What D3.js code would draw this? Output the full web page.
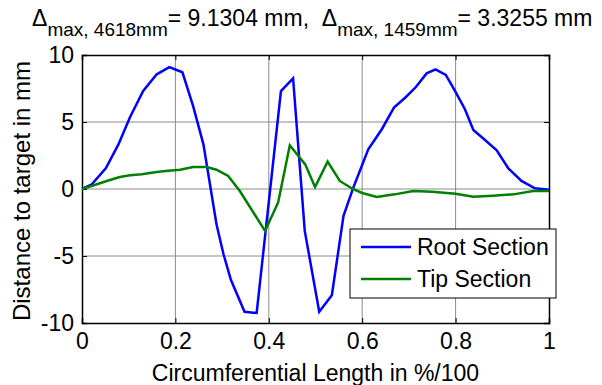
<!DOCTYPE html>
<html>
<head>
<meta charset="utf-8">
<script src="https://cdn.jsdelivr.net/npm/d3@7"></script>
<style>
body { margin: 0; background: #fff; }
svg text { font-family: "Liberation Sans", Arial, sans-serif; fill: #000; }
</style>
</head>
<body>
<div id="chart"></div>
<script>
let rootX = [0, 0.021, 0.051, 0.078, 0.103, 0.131, 0.16, 0.187, 0.215, 0.238, 0.26, 0.288, 0.303, 0.319, 0.348, 0.374, 0.426, 0.452, 0.477, 0.508, 0.535, 0.56, 0.581, 0.613, 0.642, 0.668, 0.692, 0.715, 0.738, 0.757, 0.779, 0.799, 0.82, 0.838, 0.863, 0.888, 0.913, 0.941, 0.97, 1];
let rootY = [0, 0.35, 1.54, 3.33, 5.37, 7.31, 8.56, 9.10, 8.71, 6.19, 3.33, -2.63, -4.87, -6.79, -9.16, -9.25, 7.31, 8.26, -3.13, -9.16, -7.93, -2.0, 0.1, 2.96, 4.46, 6.07, 6.81, 7.61, 8.63, 8.93, 8.51, 7.31, 5.95, 4.40, 3.66, 2.89, 1.54, 0.60, 0.05, -0.05];

let tipX = [0, 0.027, 0.053, 0.081, 0.103, 0.128, 0.16, 0.185, 0.21, 0.238, 0.267, 0.288, 0.313, 0.338, 0.392, 0.42, 0.445, 0.478, 0.499, 0.526, 0.552, 0.58, 0.6, 0.631, 0.67, 0.709, 0.75, 0.8, 0.838, 0.88, 0.924, 0.966, 1];
let tipY = [0, 0.3, 0.6, 0.9, 1.02, 1.1, 1.27, 1.37, 1.44, 1.64, 1.64, 1.44, 0.97, -0.15, -3.13, -1.0, 3.26, 1.84, 0.15, 2.04, 0.6, 0, -0.3, -0.6, -0.4, -0.15, -0.2, -0.35, -0.57, -0.5, -0.4, -0.15, -0.15];

let xTicks = [0, 0.2, 0.4, 0.6, 0.8, 1];
let yTicks = [-10, -5, 0, 5, 10];
let seriesNames = ['Root Section', 'Tip Section'];
let seriesColors = ['#0000ff', '#008000'];

let width = 602, height = 385;
let plotLeft = 82, plotRight = 549, plotTop = 55, plotBottom = 323;

let xScale = d3.scaleLinear().domain([0, 1]).range([plotLeft, plotRight]);
let yScale = d3.scaleLinear().domain([-10, 10]).range([plotBottom, plotTop]);

let svg = d3.select('#chart').append('svg')
    .attr('width', width)
    .attr('height', height);

// grid
svg.append('g')
    .selectAll('line')
    .data(xTicks.slice(1, -1))
    .enter()
    .append('line')
    .attr('x1', d => xScale(d))
    .attr('x2', d => xScale(d))
    .attr('y1', plotTop)
    .attr('y2', plotBottom)
    .attr('stroke', '#8c8c8c')
    .attr('stroke-width', 1);

svg.append('g')
    .selectAll('line')
    .data(yTicks.slice(1, -1))
    .enter()
    .append('line')
    .attr('x1', plotLeft)
    .attr('x2', plotRight)
    .attr('y1', d => yScale(d))
    .attr('y2', d => yScale(d))
    .attr('stroke', '#8c8c8c')
    .attr('stroke-width', 1);

// axes, MATLAB style: ticks inside on all four sides, plain hyphen for minus
let fmt = d => String(d);
let xBottom = d3.axisBottom(xScale).tickValues(xTicks).tickSize(-5).tickPadding(10).tickFormat(fmt);
let xTop = d3.axisTop(xScale).tickValues(xTicks).tickSize(-5).tickFormat('');
let yLeft = d3.axisLeft(yScale).tickValues(yTicks).tickSize(-5).tickPadding(8).tickFormat(fmt);
let yRight = d3.axisRight(yScale).tickValues(yTicks).tickSize(-5).tickFormat('');

function styleAxis(g) {
    g.select('.domain').attr('stroke', '#000').attr('stroke-width', 1.5);
    g.selectAll('.tick line').attr('stroke', '#000');
    g.selectAll('.tick text').style('font-size', '23px').attr('fill', '#000');
}

svg.append('g').attr('transform', 'translate(0,' + plotBottom + ')').call(xBottom).call(styleAxis);
svg.append('g').attr('transform', 'translate(0,' + plotTop + ')').call(xTop).call(styleAxis);
svg.append('g').attr('transform', 'translate(' + plotLeft + ',0)').call(yLeft).call(styleAxis);
svg.append('g').attr('transform', 'translate(' + plotRight + ',0)').call(yRight).call(styleAxis);

// lines
let line = d3.line()
    .x(d => xScale(d[0]))
    .y(d => yScale(d[1]));

let series = [d3.zip(rootX, rootY), d3.zip(tipX, tipY)];

svg.append('g')
    .selectAll('path')
    .data(series)
    .enter()
    .append('path')
    .attr('d', line)
    .attr('fill', 'none')
    .attr('stroke', (d, i) => seriesColors[i])
    .attr('stroke-width', 2.5)
    .attr('stroke-linejoin', 'miter');

// labels
svg.append('text')
    .attr('x', (plotLeft + plotRight) / 2)
    .attr('y', 381)
    .attr('text-anchor', 'middle')
    .style('font-size', '23px')
    .text('Circumferential Length in %/100');

svg.append('text')
    .attr('transform', 'translate(30,' + ((plotTop + plotBottom) / 2 + 2) + ') rotate(-90)')
    .attr('text-anchor', 'middle')
    .style('font-size', '24px')
    .text('Distance to target in mm');

// title with subscripts
let title = svg.append('text')
    .attr('x', 32)
    .attr('y', 26)
    .style('font-size', '23px')
    .style('white-space', 'pre');

title.append('tspan').text('\u0394');
title.append('tspan').attr('dy', 10).style('font-size', '19px').text('max, 4618mm');
title.append('tspan').attr('dy', -10).text('= 9.1304 mm,  \u0394');
title.append('tspan').attr('dy', 10).style('font-size', '19px').text('max, 1459mm');
title.append('tspan').attr('dy', -10).text('= 3.3255 mm');

// legend
let legend = svg.append('g');
legend.append('rect')
    .attr('x', 350)
    .attr('y', 229)
    .attr('width', 206)
    .attr('height', 69)
    .attr('fill', '#fff')
    .attr('stroke', '#000')
    .attr('stroke-width', 1);

let items = legend.selectAll('g.item')
    .data(seriesNames)
    .enter()
    .append('g')
    .attr('class', 'item')
    .attr('transform', (d, i) => 'translate(0,' + (247 + i * 32) + ')');

items.append('line')
    .attr('x1', 361)
    .attr('x2', 411)
    .attr('stroke', (d, i) => seriesColors[i])
    .attr('stroke-width', 2.5);

items.append('text')
    .attr('x', 417)
    .attr('y', 8)
    .style('font-size', '23px')
    .text(d => d);
</script>
</body>
</html>
